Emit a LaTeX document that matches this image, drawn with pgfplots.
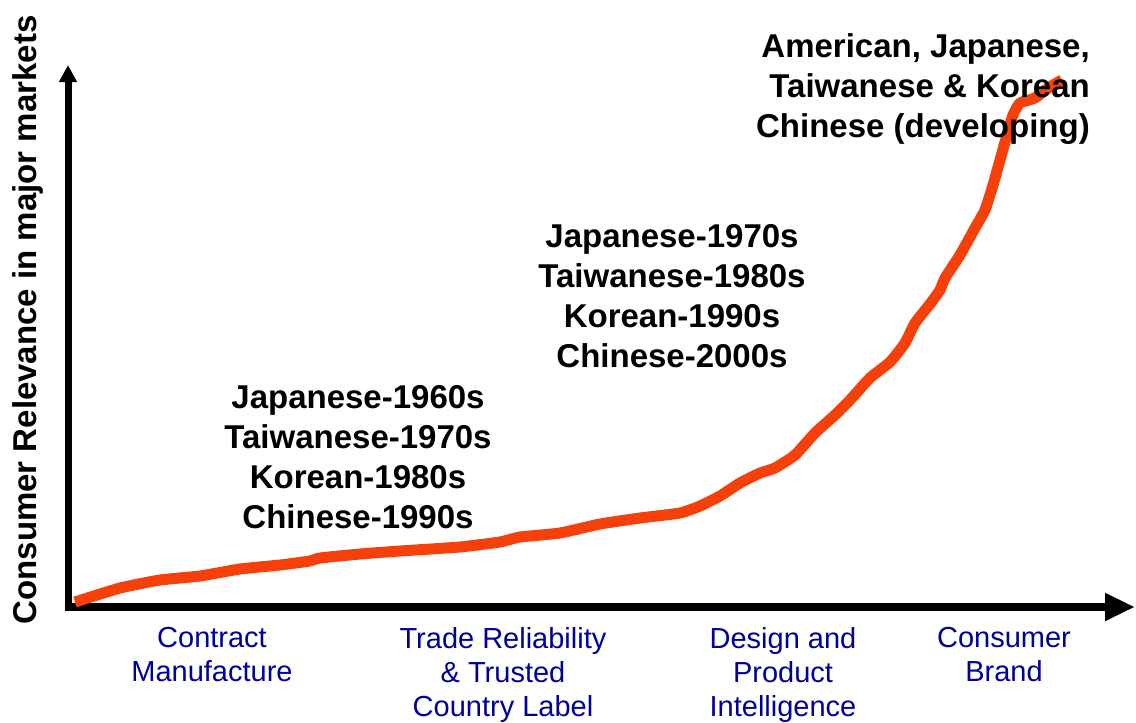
\documentclass[border=0pt]{standalone}
\usepackage{pgfplots}
\pgfplotsset{compat=1.18}
\usepackage{fontspec}
\setmainfont{Liberation Sans}
\usetikzlibrary{arrows.meta}
\definecolor{curve}{RGB}{245,64,10}
\definecolor{navy}{RGB}{0,0,153}
\begin{document}
\begin{tikzpicture}
\begin{axis}[
  width=1136pt, height=723pt, scale only axis,
  xmin=0, xmax=1136, ymin=0, ymax=723, y dir=reverse,
  hide axis, clip=false,
]
% axes
\draw[line width=7pt, -{Triangle[width=17pt,length=17pt]}] (axis cs:68,611) -- (axis cs:68,65);
\draw[line width=8pt, -{Triangle[width=26pt,length=30pt]}] (axis cs:64.5,607) -- (axis cs:1135,607);
% curve
\addplot[color=curve, line width=11pt, line join=round, smooth, tension=0.3] coordinates {
(75,602) (120,588) (160,580) (200,576) (240,569) (280,565) (310,561) (320,558)
(360,554) (400,551) (460,547) (500,542) (520,537) (560,533) (600,524)
(640,518) (680,513) (700,506) (720,496) (740,483) (760,473) (775,468)
(795,455) (815,433) (835,415) (850,400) (870,378) (890,362) (905,343)
(915,323) (930,304) (940,290) (945,278) (960,255) (975,228) (985,210)
(993,185) (1000,160) (1007,135) (1013,115) (1020,103) (1035,98) (1048,88) (1062,80)
};
% annotations
\node[inner sep=0pt, align=center, font=\fontsize{33}{40}\selectfont\bfseries] at (axis cs:358,457)
  {Japanese-1960s\\Taiwanese-1970s\\Korean-1980s\\Chinese-1990s};
\node[inner sep=0pt, align=center, font=\fontsize{33}{40}\selectfont\bfseries] at (axis cs:672,296)
  {Japanese-1970s\\Taiwanese-1980s\\Korean-1990s\\Chinese-2000s};
\node[inner sep=0pt, anchor=east, align=right, font=\fontsize{33}{40}\selectfont\bfseries] at (axis cs:1090,89)
  {American, Japanese,\\Taiwanese \& Korean\\Chinese (developing)};
% y label
\node[inner sep=0pt, rotate=90, font=\fontsize{33}{40}\selectfont\bfseries] at (axis cs:28,320)
  {Consumer Relevance in major markets};
% category labels
\node[inner sep=0pt, anchor=north, align=center, text=navy, font=\fontsize{29}{34}\selectfont] at (axis cs:212,627)
  {Contract\\Manufacture};
\node[inner sep=0pt, anchor=north, align=center, text=navy, font=\fontsize{29}{34}\selectfont] at (axis cs:503,627)
  {Trade Reliability\\\& Trusted\\Country Label};
\node[inner sep=0pt, anchor=north, align=center, text=navy, font=\fontsize{29}{34}\selectfont] at (axis cs:783,627)
  {Design and\\Product\\Intelligence};
\node[inner sep=0pt, anchor=north, align=center, text=navy, font=\fontsize{29}{34}\selectfont] at (axis cs:1004,627)
  {Consumer\\Brand};
\end{axis}
\pgfresetboundingbox
\path[use as bounding box] (current axis.south west) rectangle (current axis.north east);
\end{tikzpicture}
\end{document}
